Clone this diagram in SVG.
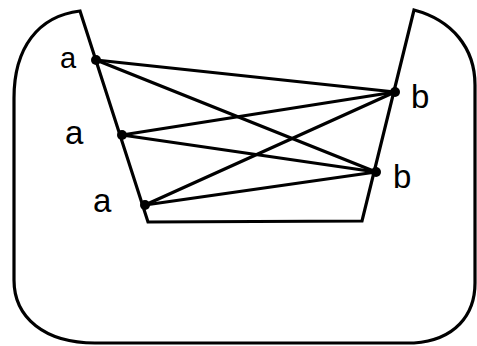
<svg xmlns="http://www.w3.org/2000/svg" width="477" height="346" viewBox="0 0 477 346">
<style>
.edge{stroke:#000;stroke-width:3.2;fill:none;stroke-linecap:round}
.outline{stroke:#000;stroke-width:3.2;fill:#fff;stroke-linejoin:miter}
.dot{fill:#000}
.lbl{font-family:"Liberation Sans",Arial,sans-serif;fill:#000}
</style>
<rect width="477" height="346" fill="#fff"/>
<path class="outline" d="M80,11 C38,16 14,48 14,98 L14,280 C14,318 45,343 95,343 L414,343 C455,340 475,315 475,283 L475,85 C475,48 452,20 414,10 L362,221 L148,222 Z"/>
<g id="connectors">
<line class="edge" x1="96" y1="60" x2="395" y2="92"/>
<line class="edge" x1="96" y1="60" x2="376" y2="172"/>
<line class="edge" x1="122" y1="135" x2="395" y2="92"/>
<line class="edge" x1="122" y1="135" x2="376" y2="172"/>
<line class="edge" x1="145" y1="205" x2="395" y2="92"/>
<line class="edge" x1="145" y1="205" x2="376" y2="172"/>
</g>
<g id="a1"><circle class="dot" cx="96" cy="60" r="5"/><text class="lbl" x="60" y="68" font-size="29">a</text></g>
<g id="a2"><circle class="dot" cx="122" cy="135" r="5"/><text class="lbl" x="65" y="144" font-size="33">a</text></g>
<g id="a3"><circle class="dot" cx="145" cy="205" r="5"/><text class="lbl" x="93" y="212" font-size="33">a</text></g>
<g id="b1"><circle class="dot" cx="395" cy="92" r="5"/><text class="lbl" x="411" y="108" font-size="33">b</text></g>
<g id="b2"><circle class="dot" cx="376" cy="172" r="5"/><text class="lbl" x="393" y="188" font-size="33">b</text></g>
</svg>
